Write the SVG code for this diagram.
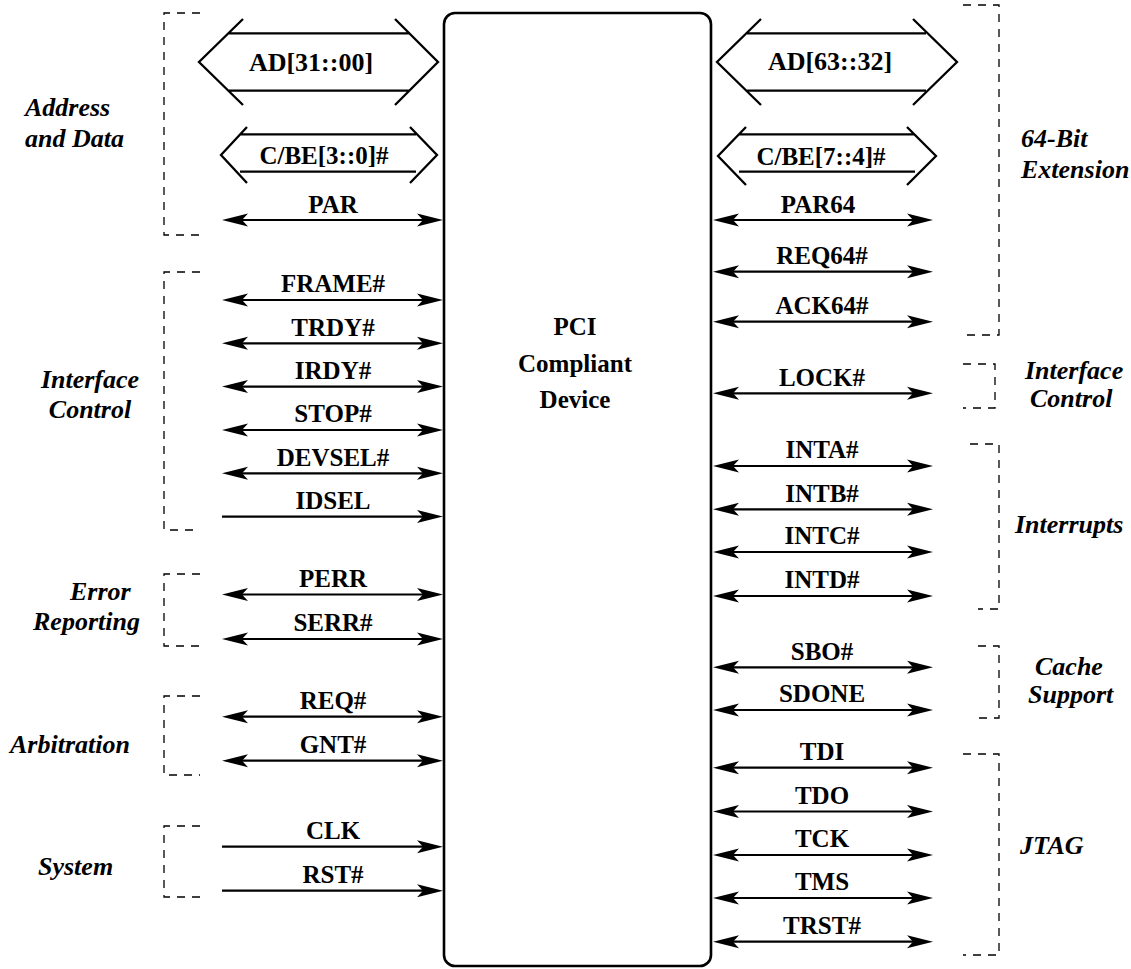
<svg xmlns="http://www.w3.org/2000/svg" width="1131" height="969" viewBox="0 0 1131 969">
<style>
text{font-family:"Liberation Serif","Times New Roman",serif;font-weight:bold;fill:#000}
.sig{font-size:25px;text-anchor:middle}
.bus{font-size:26px;text-anchor:middle}
.grp{font-style:italic;font-size:26px}
.ln{stroke:#000;stroke-width:2.2;fill:none}
.hex{stroke:#000;stroke-width:2.3;fill:none;stroke-linejoin:miter}
.br{stroke:#000;stroke-width:1.3;fill:none;stroke-dasharray:8 7}
.box{stroke:#000;stroke-width:2.6;fill:#fff}
</style>
<defs>
<marker id="ah" markerUnits="userSpaceOnUse" markerWidth="30" markerHeight="16" viewBox="0 -8 30 16" refX="6" refY="0" orient="auto-start-reverse">
<path d="M0,-6.5 L26,0 L0,6.5 L6,0 Z" fill="#000"/>
</marker>
</defs>
<rect width="1131" height="969" fill="#fff"/>

<g id="device">
<rect class="box" x="444" y="13" width="267" height="953" rx="11"/>
<text class="sig" x="575" y="335">PCI</text>
<text class="sig" x="575" y="372">Compliant</text>
<text class="sig" x="575" y="408">Device</text>
</g>

<g id="brackets">
<path class="br" d="M200,13 H164 V235 H200"/>
<path class="br" d="M200,272 H164 V530 H200"/>
<path class="br" d="M200,574 H164 V646 H200"/>
<path class="br" d="M200,696 H164 V775 H200"/>
<path class="br" d="M200,826 H164 V897 H200"/>
<path class="br" d="M963,5 H999 V335 H963"/>
<path class="br" d="M963,364 H995 V408 H963"/>
<path class="br" d="M970,444 H999 V609 H978"/>
<path class="br" d="M978,646 H999 V718 H978"/>
<path class="br" d="M963,754 H999 V955 H963"/>
</g>

<g id="group-labels">
<text class="grp" x="25" y="116">Address</text>
<text class="grp" x="25" y="147">and Data</text>
<text class="grp" x="90" y="388" text-anchor="middle">Interface</text>
<text class="grp" x="90" y="418" text-anchor="middle">Control</text>
<text class="grp" x="70" y="600">Error</text>
<text class="grp" x="33" y="630">Reporting</text>
<text class="grp" x="10" y="753">Arbitration</text>
<text class="grp" x="38" y="875">System</text>
<text class="grp" x="1021" y="147">64-Bit</text>
<text class="grp" x="1021" y="178">Extension</text>
<text class="grp" x="1025" y="379">Interface</text>
<text class="grp" x="1030" y="407">Control</text>
<text class="grp" x="1015" y="533">Interrupts</text>
<text class="grp" x="1035" y="675">Cache</text>
<text class="grp" x="1028" y="703">Support</text>
<text class="grp" x="1020" y="854">JTAG</text>
</g>

<g id="buses">
<g id="ad-low">
<path class="hex" d="M243,19 L199,62 L243,105 M395,19 L438,62 L395,105 M229,33.3 H409 M229,90.7 H409"/>
<text class="bus" x="311" y="71">AD[31::00]</text>
</g>
<g id="ad-high">
<path class="hex" d="M761,19 L717,62 L761,105 M913,19 L957,62 L913,105 M747,33.3 H926 M747,90.7 H926"/>
<text class="bus" x="830" y="70">AD[63::32]</text>
</g>
<g id="cbe-low">
<path class="hex" d="M247,127 L221,155 L247,183 M410,127 L437,155 L410,183 M240,134.3 H416 M240,171.7 H416"/>
<text class="sig" x="324" y="164">C/BE[3::0]#</text>
</g>
<g id="cbe-high">
<path class="hex" d="M746,127 L718,156 L746,185 M907,127 L936,156 L907,185 M739,134.3 H915 M739,171.7 H915"/>
<text class="sig" x="821" y="165">C/BE[7::4]#</text>
</g>
</g>

<g id="connectors">
<line class="ln" x1="242" y1="220" x2="423" y2="220" marker-start="url(#ah)" marker-end="url(#ah)"/>
<line class="ln" x1="242" y1="300" x2="423" y2="300" marker-start="url(#ah)" marker-end="url(#ah)"/>
<line class="ln" x1="242" y1="343.3" x2="423" y2="343.3" marker-start="url(#ah)" marker-end="url(#ah)"/>
<line class="ln" x1="242" y1="386.6" x2="423" y2="386.6" marker-start="url(#ah)" marker-end="url(#ah)"/>
<line class="ln" x1="242" y1="430" x2="423" y2="430" marker-start="url(#ah)" marker-end="url(#ah)"/>
<line class="ln" x1="242" y1="473.3" x2="423" y2="473.3" marker-start="url(#ah)" marker-end="url(#ah)"/>
<line class="ln" x1="222" y1="516.6" x2="423" y2="516.6" marker-end="url(#ah)"/>
<line class="ln" x1="242" y1="594.5" x2="423" y2="594.5" marker-start="url(#ah)" marker-end="url(#ah)"/>
<line class="ln" x1="242" y1="639" x2="423" y2="639" marker-start="url(#ah)" marker-end="url(#ah)"/>
<line class="ln" x1="242" y1="716.7" x2="423" y2="716.7" marker-start="url(#ah)" marker-end="url(#ah)"/>
<line class="ln" x1="242" y1="760.7" x2="423" y2="760.7" marker-start="url(#ah)" marker-end="url(#ah)"/>
<line class="ln" x1="222" y1="846.7" x2="423" y2="846.7" marker-end="url(#ah)"/>
<line class="ln" x1="222" y1="890.7" x2="423" y2="890.7" marker-end="url(#ah)"/>

<line class="ln" x1="733" y1="220" x2="913" y2="220" marker-start="url(#ah)" marker-end="url(#ah)"/>
<line class="ln" x1="733" y1="271.7" x2="913" y2="271.7" marker-start="url(#ah)" marker-end="url(#ah)"/>
<line class="ln" x1="733" y1="321.7" x2="913" y2="321.7" marker-start="url(#ah)" marker-end="url(#ah)"/>
<line class="ln" x1="733" y1="393.3" x2="913" y2="393.3" marker-start="url(#ah)" marker-end="url(#ah)"/>
<line class="ln" x1="733" y1="466" x2="913" y2="466" marker-start="url(#ah)" marker-end="url(#ah)"/>
<line class="ln" x1="733" y1="509.3" x2="913" y2="509.3" marker-start="url(#ah)" marker-end="url(#ah)"/>
<line class="ln" x1="733" y1="552" x2="913" y2="552" marker-start="url(#ah)" marker-end="url(#ah)"/>
<line class="ln" x1="733" y1="596" x2="913" y2="596" marker-start="url(#ah)" marker-end="url(#ah)"/>
<line class="ln" x1="733" y1="667.3" x2="913" y2="667.3" marker-start="url(#ah)" marker-end="url(#ah)"/>
<line class="ln" x1="733" y1="710" x2="913" y2="710" marker-start="url(#ah)" marker-end="url(#ah)"/>
<line class="ln" x1="733" y1="767.7" x2="913" y2="767.7" marker-start="url(#ah)" marker-end="url(#ah)"/>
<line class="ln" x1="733" y1="811.5" x2="913" y2="811.5" marker-start="url(#ah)" marker-end="url(#ah)"/>
<line class="ln" x1="733" y1="855" x2="913" y2="855" marker-start="url(#ah)" marker-end="url(#ah)"/>
<line class="ln" x1="733" y1="898" x2="913" y2="898" marker-start="url(#ah)" marker-end="url(#ah)"/>
<line class="ln" x1="733" y1="941.7" x2="913" y2="941.7" marker-start="url(#ah)" marker-end="url(#ah)"/>
</g>

<g id="signal-labels">
<text class="sig" x="333" y="213">PAR</text>
<text class="sig" x="333" y="292">FRAME#</text>
<text class="sig" x="333" y="335.5">TRDY#</text>
<text class="sig" x="333" y="379">IRDY#</text>
<text class="sig" x="333" y="422">STOP#</text>
<text class="sig" x="333" y="465.5">DEVSEL#</text>
<text class="sig" x="333" y="509">IDSEL</text>
<text class="sig" x="333" y="587">PERR</text>
<text class="sig" x="333" y="631">SERR#</text>
<text class="sig" x="333" y="709">REQ#</text>
<text class="sig" x="333" y="753">GNT#</text>
<text class="sig" x="333" y="839">CLK</text>
<text class="sig" x="333" y="883">RST#</text>

<text class="sig" x="818" y="213">PAR64</text>
<text class="sig" x="822" y="264">REQ64#</text>
<text class="sig" x="822" y="314">ACK64#</text>
<text class="sig" x="822" y="386">LOCK#</text>
<text class="sig" x="822" y="458">INTA#</text>
<text class="sig" x="822" y="501.5">INTB#</text>
<text class="sig" x="822" y="544">INTC#</text>
<text class="sig" x="822" y="588">INTD#</text>
<text class="sig" x="822" y="659.5">SBO#</text>
<text class="sig" x="822" y="702">SDONE</text>
<text class="sig" x="822" y="760">TDI</text>
<text class="sig" x="822" y="804">TDO</text>
<text class="sig" x="822" y="847">TCK</text>
<text class="sig" x="822" y="890">TMS</text>
<text class="sig" x="822" y="934">TRST#</text>
</g>
</svg>
